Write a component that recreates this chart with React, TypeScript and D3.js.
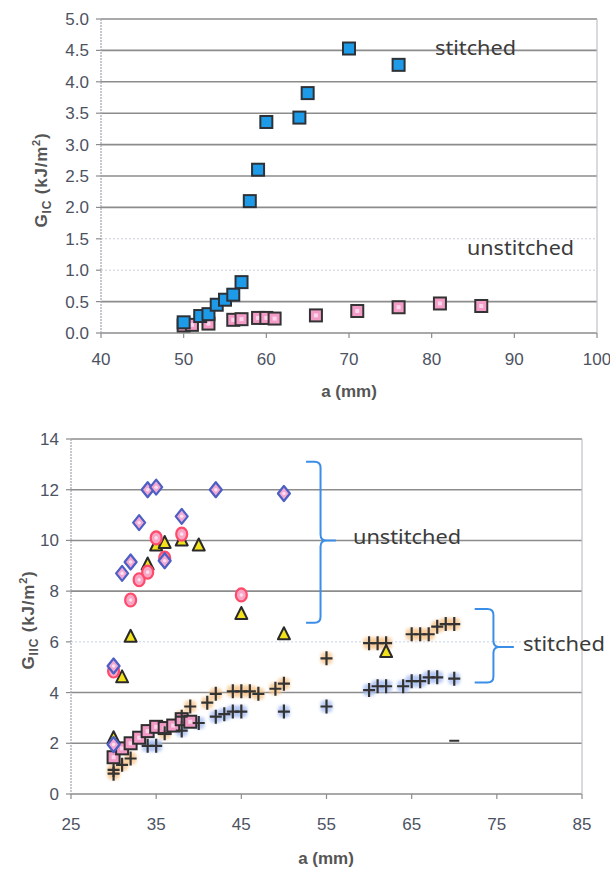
import React from "react";
import * as d3 from "d3";

// ---------- Top chart data (Mode I) ----------
const topXTicks = [40, 50, 60, 70, 80, 90, 100];
const topYTicks = [0, 0.5, 1.0, 1.5, 2.0, 2.5, 3.0, 3.5, 4.0, 4.5, 5.0];
const topStitchedA = [50, 52, 53, 54, 55, 56, 57, 58, 59, 60, 64, 65, 70, 76];
const topStitchedG = [0.17, 0.27, 0.30, 0.45, 0.53, 0.61, 0.81, 2.10, 2.60, 3.36, 3.43, 3.82, 4.53, 4.27];
const topUnstitchedA = [50, 51, 53, 56, 57, 59, 60, 61, 66, 71, 76, 81, 86];
const topUnstitchedG = [0.12, 0.13, 0.15, 0.21, 0.22, 0.24, 0.24, 0.23, 0.28, 0.35, 0.41, 0.47, 0.43];

// ---------- Bottom chart data (Mode II) ----------
const botXTicks = [25, 35, 45, 55, 65, 75, 85];
const botYTicks = [0, 2, 4, 6, 8, 10, 12, 14];
const diamondA = [30, 30, 31, 32, 33, 34, 35, 36, 38, 42, 50];
const diamondG = [5.05, 1.95, 8.7, 9.15, 10.7, 12.0, 12.1, 9.2, 10.95, 12.0, 11.85];
const circleA = [30, 32, 33, 34, 35, 36, 38, 45];
const circleG = [4.85, 7.65, 8.45, 8.75, 10.1, 9.3, 10.25, 7.85];
const triangleA = [30, 31, 32, 34, 35, 36, 38, 40, 45, 50, 62];
const triangleG = [2.2, 4.6, 6.2, 9.05, 9.8, 9.9, 10.0, 9.8, 7.1, 6.3, 5.6];
const squareA = [30, 31, 32, 33, 34, 35, 36, 37, 38, 39];
const squareG = [1.45, 1.8, 2.0, 2.22, 2.48, 2.65, 2.6, 2.7, 2.95, 2.85];
const plusUpperA = [30, 30, 31, 32, 36, 38, 39, 41, 42, 44, 45, 46, 47, 49, 50, 55, 60, 61, 62, 65, 66, 67, 68, 69, 70];
const plusUpperG = [0.95, 0.8, 1.15, 1.4, 2.4, 3.05, 3.45, 3.6, 3.95, 4.05, 4.05, 4.05, 3.95, 4.15, 4.35, 5.35, 5.95, 5.95, 5.95, 6.3, 6.3, 6.3, 6.6, 6.7, 6.7];
const plusLowerA = [34, 35, 38, 40, 42, 43, 44, 45, 50, 55, 60, 61, 62, 64, 65, 66, 67, 68, 70];
const plusLowerG = [1.9, 1.9, 2.5, 2.8, 3.05, 3.15, 3.25, 3.25, 3.25, 3.45, 4.1, 4.25, 4.25, 4.25, 4.45, 4.45, 4.6, 4.6, 4.55];
const dashA = [70];
const dashG = [2.1];

const tickFont = "'Liberation Sans', Arial, sans-serif";
const annFont = "'Noto Sans', 'Open Sans', sans-serif";
const tickColor = "#4d5262";
const gridColor = "#8c8c8c";

function Bracket({ x0, x1, xt, yTop, yMid, yBot }: any) {
  const r = 6;
  const xm = x1;
  const d = [
    `M${x0},${yTop} L${xm - r},${yTop} Q${xm},${yTop} ${xm},${yTop + r}`,
    `L${xm},${yMid - r} Q${xm},${yMid} ${xm + r},${yMid} L${xt},${yMid}`,
    `M${xm + r},${yMid} Q${xm},${yMid} ${xm},${yMid + r}`,
    `L${xm},${yBot - r} Q${xm},${yBot} ${xm - r},${yBot} L${x0},${yBot}`,
  ].join(" ");
  return <path d={d} fill="none" stroke="#3b8ee8" strokeWidth={2} />;
}

export default function App() {
  const tx = d3.scaleLinear().domain([40, 100]).range([101, 597]);
  const ty = d3.scaleLinear().domain([0, 5]).range([333, 19]);
  const bx = d3.scaleLinear().domain([25, 85]).range([71, 582]);
  const by = d3.scaleLinear().domain([0, 14]).range([794, 439]);

  const sq = 12;

  return (
    <svg width={610} height={872} style={{ position: "absolute", left: 0, top: 0, background: "#fff" }}>
      <defs>
        <filter id="halo" x="-50%" y="-50%" width="200%" height="200%">
          <feGaussianBlur stdDeviation="1.6" />
        </filter>
      </defs>
      <rect width={610} height={872} fill="#fff" />

      {/* ================= TOP CHART ================= */}
      {topYTicks.map((v) => (
        <g key={"tg" + v}>
          <line
            x1={tx(40)}
            x2={tx(100)}
            y1={ty(v)}
            y2={ty(v)}
            stroke={v === 1.0 || v === 1.5 ? "#c8ccd8" : gridColor}
            strokeWidth={v === 1.0 || v === 1.5 ? 1 : 1.6}
            strokeDasharray={v === 1.0 || v === 1.5 ? "2,2" : undefined}
          />
          <line x1={tx(40) - 5} x2={tx(40)} y1={ty(v)} y2={ty(v)} stroke={gridColor} strokeWidth={1.2} />
          <text x={89} y={ty(v) + 6} textAnchor="end" fontFamily={tickFont} fontSize={17} fill={tickColor}>
            {v.toFixed(1)}
          </text>
        </g>
      ))}
      <line x1={tx(40)} x2={tx(40)} y1={ty(5)} y2={ty(0)} stroke="#a0a4b0" strokeWidth={1.2} strokeDasharray="2,1" />
      <line x1={tx(100)} x2={tx(100)} y1={ty(5)} y2={ty(0)} stroke="#c0c0c8" strokeWidth={1.2} />
      {topXTicks.map((v) => (
        <g key={"tx" + v}>
          <line x1={tx(v)} x2={tx(v)} y1={ty(0)} y2={ty(0) + 5} stroke={gridColor} strokeWidth={1.2} />
          <text x={tx(v)} y={365} textAnchor="middle" fontFamily={tickFont} fontSize={17} fill={tickColor}>
            {v}
          </text>
        </g>
      ))}
      {topUnstitchedA.map((a, i) => (
        <g key={"tu" + i}>
          <rect x={tx(a) - sq / 2} y={ty(topUnstitchedG[i]) - sq / 2} width={sq} height={sq} fill="#f39cc8" stroke="#333" strokeWidth={2} />
          <rect x={tx(a) - 2} y={ty(topUnstitchedG[i]) - 2} width={4} height={4} fill="#fbd6ea" />
        </g>
      ))}
      {topStitchedA.map((a, i) => (
        <rect key={"ts" + i} x={tx(a) - sq / 2} y={ty(topStitchedG[i]) - sq / 2} width={sq} height={sq} fill="#1e9be8" stroke="#2d3238" strokeWidth={2} />
      ))}
      <text x={435} y={55} fontFamily={annFont} fontSize={19} fill="#3c3c3c" textLength={81} lengthAdjust="spacingAndGlyphs">stitched</text>
      <text x={467} y={255} fontFamily={annFont} fontSize={19} fill="#3c3c3c" textLength={107} lengthAdjust="spacingAndGlyphs">unstitched</text>
      <text x={349} y={397} textAnchor="middle" fontFamily={tickFont} fontWeight="bold" fontSize={17} fill="#555">a (mm)</text>
      <text transform="translate(47,180) rotate(-90)" textAnchor="middle" fontFamily={tickFont} fontWeight="bold" fontSize={17} letterSpacing={0.8} fill="#555">
        G<tspan fontSize={12} dy={4}>IC</tspan>
        <tspan dy={-4}> (kJ/m</tspan>
        <tspan fontSize={11} dy={-7}>2</tspan>
        <tspan dy={7}>)</tspan>
      </text>

      {/* ================= BOTTOM CHART ================= */}
      {botYTicks.map((v) => (
        <g key={"bg" + v}>
          <line
            x1={bx(25)}
            x2={bx(85)}
            y1={by(v)}
            y2={by(v)}
            stroke={v === 6 ? "#c4d4ec" : gridColor}
            strokeWidth={v === 6 ? 1 : 1.6}
            strokeDasharray={v === 6 ? "2,2" : undefined}
          />
          <line x1={bx(25) - 5} x2={bx(25)} y1={by(v)} y2={by(v)} stroke={gridColor} strokeWidth={1.2} />
          <text x={59} y={by(v) + 6} textAnchor="end" fontFamily={tickFont} fontSize={17} fill={tickColor}>
            {v}
          </text>
        </g>
      ))}
      <line x1={bx(25)} x2={bx(25)} y1={by(14)} y2={by(0)} stroke="#a0a4b0" strokeWidth={1.2} strokeDasharray="2,1" />
      <line x1={bx(85)} x2={bx(85)} y1={by(14)} y2={by(0)} stroke="#c0c0c8" strokeWidth={1.2} />
      {botXTicks.map((v) => (
        <g key={"bx" + v}>
          <line x1={bx(v)} x2={bx(v)} y1={by(0)} y2={by(0) + 5} stroke={gridColor} strokeWidth={1.2} />
          <text x={bx(v)} y={830} textAnchor="middle" fontFamily={tickFont} fontSize={17} fill={tickColor}>
            {v}
          </text>
        </g>
      ))}

      {plusUpperA.map((a, i) => (
        <rect key={"puh" + i} x={bx(a) - 6} y={by(plusUpperG[i]) - 6} width={12} height={12} rx={4} fill="#f7c48a" opacity={0.75} filter="url(#halo)" />
      ))}
      {plusLowerA.map((a, i) => (
        <rect key={"plh" + i} x={bx(a) - 6} y={by(plusLowerG[i]) - 6} width={12} height={12} rx={4} fill="#a9bff2" opacity={0.8} filter="url(#halo)" />
      ))}

      {squareA.map((a, i) => (
        <g key={"bs" + i}>
          <rect x={bx(a) - 6} y={by(squareG[i]) - 6} width={12} height={12} fill="#f19ac6" stroke="#2e2e2e" strokeWidth={2} />
          <rect x={bx(a) - 2} y={by(squareG[i]) - 2} width={4} height={4} fill="#fbd3e8" />
        </g>
      ))}

      {plusUpperA.map((a, i) => (
        <path key={"pu" + i} d={`M${bx(a) - 6},${by(plusUpperG[i])} h12 M${bx(a)},${by(plusUpperG[i]) - 7} v14`} stroke="#333" strokeWidth={2.2} />
      ))}
      {plusLowerA.map((a, i) => (
        <path key={"pl" + i} d={`M${bx(a) - 6},${by(plusLowerG[i])} h12 M${bx(a)},${by(plusLowerG[i]) - 7} v14`} stroke="#333" strokeWidth={2.2} />
      ))}
      {dashA.map((a, i) => (
        <line key={"da" + i} x1={bx(a) - 5} x2={bx(a) + 5} y1={by(dashG[i])} y2={by(dashG[i])} stroke="#333" strokeWidth={2} />
      ))}

      {triangleA.map((a, i) => {
        const cx = bx(a);
        const cy = by(triangleG[i]);
        return <path key={"tr" + i} d={`M${cx},${cy - 7} L${cx + 6},${cy + 5} L${cx - 6},${cy + 5} Z`} fill="#f2e21c" stroke="#2a2a2a" strokeWidth={2} strokeLinejoin="round" />;
      })}

      {circleA.map((a, i) => (
        <g key={"ci" + i}>
          <ellipse cx={bx(a)} cy={by(circleG[i])} rx={5.5} ry={6.5} fill="#f7a6c6" stroke="#ff4a6a" strokeWidth={2.2} />
          <circle cx={bx(a)} cy={by(circleG[i])} r={1.8} fill="#fde0ee" />
        </g>
      ))}

      {diamondA.map((a, i) => {
        const cx = bx(a);
        const cy = by(diamondG[i]);
        return (
          <g key={"di" + i}>
            <path d={`M${cx},${cy - 7.5} L${cx + 6},${cy} L${cx},${cy + 7.5} L${cx - 6},${cy} Z`} fill="#f2a8d2" stroke="#4c5fc4" strokeWidth={2.2} strokeLinejoin="round" />
            <circle cx={cx} cy={cy} r={1.8} fill="#fde0ee" />
          </g>
        );
      })}

      <Bracket x0={bx(52.6)} x1={bx(54.3)} xt={bx(56.1)} yTop={by(13.1)} yMid={by(10.0)} yBot={by(6.75)} />
      <Bracket x0={bx(72.4)} x1={bx(74.6)} xt={bx(77.0)} yTop={by(7.3)} yMid={by(5.8)} yBot={by(4.4)} />

      <text x={353} y={544} fontFamily={annFont} fontSize={19} fill="#3c3c3c" textLength={108} lengthAdjust="spacingAndGlyphs">unstitched</text>
      <text x={523} y={651} fontFamily={annFont} fontSize={19} fill="#3c3c3c" textLength={82} lengthAdjust="spacingAndGlyphs">stitched</text>

      <text x={326} y={864} textAnchor="middle" fontFamily={tickFont} fontWeight="bold" fontSize={17} fill="#555">a (mm)</text>
      <text transform="translate(34,620) rotate(-90)" textAnchor="middle" fontFamily={tickFont} fontWeight="bold" fontSize={17} letterSpacing={0.8} fill="#555">
        G<tspan fontSize={12} dy={4}>IIC</tspan>
        <tspan dy={-4}> (kJ/m</tspan>
        <tspan fontSize={11} dy={-7}>2</tspan>
        <tspan dy={7}>)</tspan>
      </text>
    </svg>
  );
}
